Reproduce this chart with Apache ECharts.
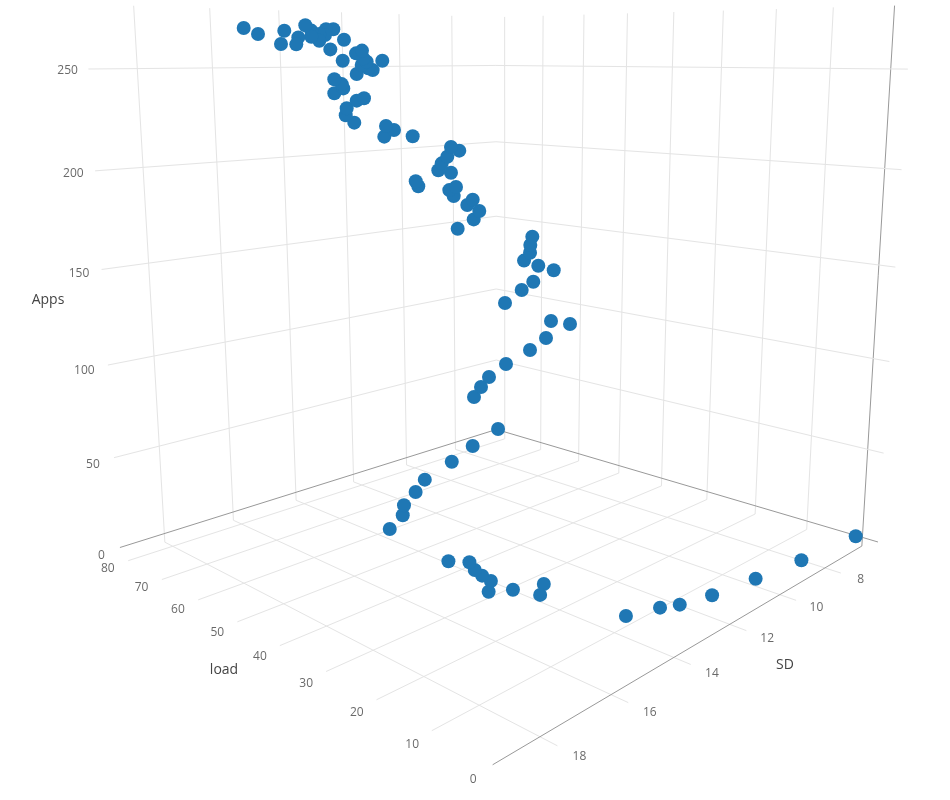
<!DOCTYPE html>
<html><head><meta charset="utf-8"><style>html,body{margin:0;background:#fff}#c{width:950px;height:800px}</style>
<script src="https://cdn.jsdelivr.net/npm/echarts@6/dist/echarts.min.js"></script></head><body><div id="c"></div>
<script>
// Data
const loadValues=[-0.69,-0.34,0.34,1.03,1.79,3.15,4.52,17.48,15.54,18.39,19.41,20.60,22.19,23.73,25.10,26.42,39.68,41.16,42.87,44.58,46.38,48.23,50.17,52.29,43.82,42.26,40.52,36.90,31.98,28.82,24.24,27.87,37.10,33.69,31.38,27.42,30.41,33.24,32.05,32.00,31.61,40.38,37.04,35.90,38.34,37.23,41.16,42.08,40.66,48.81,49.37,41.69,44.38,43.64,42.44,39.92,41.64,49.90,48.72,46.56,48.29,55.47,57.44,57.17,54.79,53.10,60.02,57.85,58.20,59.93,54.64,51.00,51.97,53.45,52.30,48.83,57.82,53.05,54.69,53.31,52.33,49.22,51.53,53.18,53.44,54.74,54.79,56.57,56.61,57.94,59.69,60.23,63.03,63.96,69.67,73.35];
const sdValues=[6.76,9.21,10.96,12.47,13.46,13.85,14.70,14.95,15.39,15.74,16.29,16.04,16.05,16.03,15.98,16.39,16.24,15.66,15.39,14.80,14.26,13.11,12.10,10.85,13,13,13,13,13,13,13,13,13,13,13,13,13,13,13,13,13,14,14,14,14,14,14,14,14,14,14,14,14,14,14,14,14,14,15,15,15,15,15,15,15,15,15,15,15,15,15,15,15,15,15,15,15,15,15,15,16,16,16,16,16,16,16,16,16,16,16,16,16,16,16,16];
const appsValues=[5,8,10,12,14,14,15,18,18,20,22,24,25,26,28,30,32,34,36,38,40,42,44,46,80.6,87.0,93.5,102.6,112.8,120.7,130.1,129.7,134.2,142.4,147.6,155.0,156.0,157.4,161.8,165.6,169.9,173.1,178.8,183.2,185.4,188.3,189.0,191.7,193.6,191.9,194.3,200.3,200.9,204.5,208.0,211.4,212.9,216.8,217.8,221.3,223.0,223.7,227.1,230.6,234.6,235.9,237.8,240.4,242.5,244.8,247.6,249.6,250.4,252.0,253.6,254.1,254.0,255.2,257.6,258.9,259.4,263.8,268.7,268.8,266.1,266.6,263.5,268.3,265.4,270.9,265.2,261.9,268.5,262.1,267.2,270.3];
const loadTicks=[0,10,20,30,40,50,60,70,80];
const sdTicks=[8,10,12,14,16,18];
const appsTicks=[0,50,100,150,200,250];
const loadRange=[-2.7,82.4],sdRange=[6.2,19.2],appsRange=[-5,281];

// ECharts core has no 3D coordinate system, so the scene's camera projects (load, SD, Apps) onto a 2D value grid.
const camera=[-0.453166,-0.44929,-0.003142,0.114454,-0.125264,0.127494,-0.599057,-0.244598,0.144906,-0.147821,-0.039833,1];
function project(l,s,a){
  const X=(l-40)/40,Y=(s-12)/6,Z=(a-130)/130,p=camera;
  const w=p[8]*X+p[9]*Y+p[10]*Z+p[11];
  return [475+400*(p[0]*X+p[1]*Y+p[2]*Z+p[3])/w,400+400*(p[4]*X+p[5]*Y+p[6]*Z+p[7])/w];
}
const [Lmin,Lmax]=loadRange,[Smin,Smax]=sdRange,[Amin,Amax]=appsRange;
const gridColor='#e4e4e4',zeroColor='#999',textColor='#444',font='"Open Sans",sans-serif';
const seg=(a,b,c)=>({type:'line',silent:true,symbol:'none',z:1,data:[a,b],lineStyle:{color:c,width:1}});
const series=[];
sdTicks.forEach(s=>{series.push(seg(project(Lmax,s,Amin),project(Lmin,s,Amin),gridColor),seg(project(Lmax,s,Amin),project(Lmax,s,Amax),gridColor));});
loadTicks.forEach(l=>{const c=l===0?zeroColor:gridColor;series.push(seg(project(l,Smin,Amin),project(l,Smax,Amin),c),seg(project(l,Smin,Amin),project(l,Smin,Amax),c));});
appsTicks.forEach(a=>{const c=a===0?zeroColor:gridColor;series.push(seg(project(Lmax,Smax,a),project(Lmax,Smin,a),c),seg(project(Lmax,Smin,a),project(Lmin,Smin,a),c));});
const tick=(pos,text,off,align)=>({type:'scatter',silent:true,z:2,symbolSize:1,itemStyle:{color:'transparent'},data:[pos],
  label:{show:true,position:'inside',formatter:String(text),offset:off,align:align,verticalAlign:'middle',color:textColor,fontFamily:font,fontSize:12}});
appsTicks.forEach(a=>series.push(tick(project(Lmax,Smax,a),a,[-15.1+a/250*4.6,7.7-a/250*5.7],'right')));
loadTicks.forEach(l=>series.push(tick(project(l,Smax,Amin),l,[-20.5+(80-l)/80,7.5+(80-l)/80*7.5],'center')));
sdTicks.forEach(s=>series.push(tick(project(Lmin,s,Amin),s,[20+(s-8)/10*2,6.5+(s-8)/10*4.5],'center')));
series.push({type:'scatter',name:'Apps',z:5,symbolSize:14,itemStyle:{color:'#1f77b4',opacity:1},
  data:loadValues.map((l,i)=>project(l,sdValues[i],appsValues[i]))});
const title=(t,x,y)=>({type:'text',x:x,y:y,style:{text:t,fill:textColor,font:'14px "Open Sans",sans-serif',textAlign:'center',textVerticalAlign:'middle'}});
const chart=echarts.init(document.getElementById('c'));
chart.setOption({animation:false,backgroundColor:'#fff',tooltip:{show:false},
  grid:{left:0,right:0,top:0,bottom:0},
  xAxis:{type:'value',min:0,max:950,show:false},
  yAxis:{type:'value',min:0,max:800,inverse:true,show:false},
  graphic:[title('Apps',48,300),title('load',224,670),title('SD',785,665)],
  series:series});
</script></body></html>
